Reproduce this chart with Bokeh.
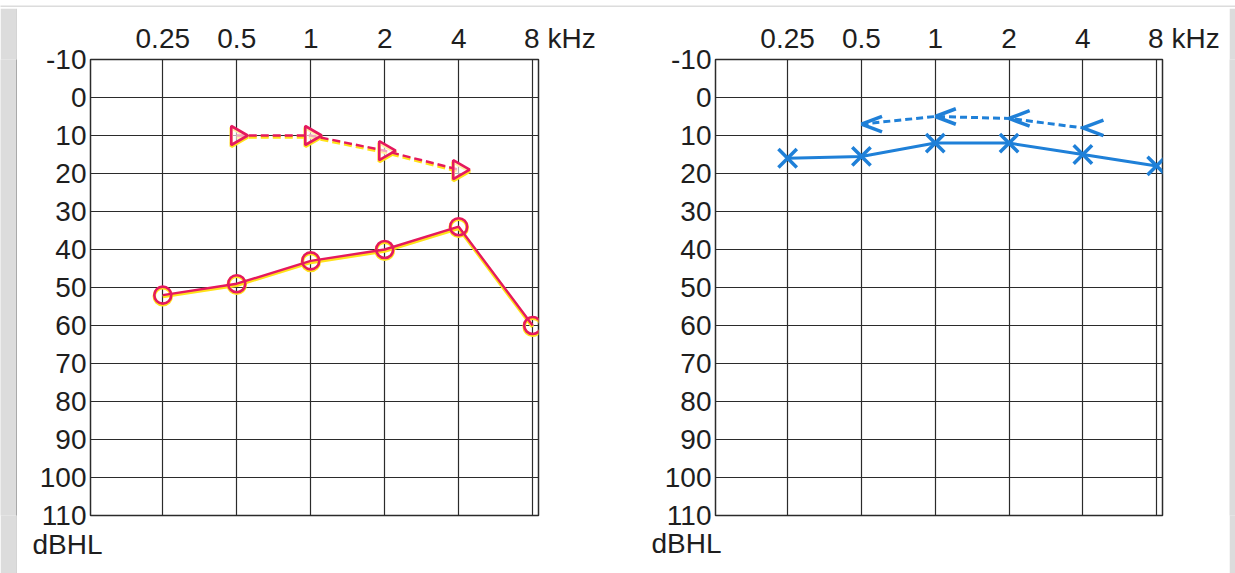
import numpy as np
from bokeh.plotting import figure
from bokeh.layouts import row, column
from bokeh.models import Range1d, FixedTicker, Title
from bokeh.embed import file_html
from bokeh.resources import INLINE

# ---------------- data ----------------
freqs = [0.25, 0.5, 1, 2, 4, 8]
# the last label carries leading figure/punctuation spaces so that "8" stays centred on its line
freq_labels = ["0.25", "0.5", "1", "2", "4", "\u2007\u2007\u2007\u20088 kHz"]
db_ticks = [-10, 0, 10, 20, 30, 40, 50, 60, 70, 80, 90, 100, 110]
db_labels = ["-10", "0", "10", "20", "30", "40", "50", "60", "70", "80", "90", "100", "110"]
y_unit = "dBHL"

# left chart (red): air conduction (circles) and bone conduction (triangles)
right_air_f = [0.25, 0.5, 1, 2, 4, 8]
right_air_db = [52, 49, 43, 40, 34, 60]
right_bone_f = [0.5, 1, 2, 4]
right_bone_db = [10, 10, 14, 19]

# right chart (blue): air conduction (crosses) and bone conduction (<)
left_air_f = [0.25, 0.5, 1, 2, 4, 8]
left_air_db = [16, 15.5, 12, 12, 15, 18]
left_bone_f = [0.5, 1, 2, 4]
left_bone_db = [7, 5, 5.5, 8]

RED = "#e5195e"
YEL = "#ffe21a"
BLUE = "#1f80d8"
GRID = "#2b2b2b"
TXT = "#1e1e1e"
FONT = "Liberation Sans"
FS = "28px"
PAGE_GRAY = "#dcdcdc"
EDGE = "#555555"


def make_chart(width, height, bl, br, bt, bb, dbhl_off, dbhl_standoff):
    p = figure(width=width, height=height, x_axis_type="log", x_axis_location="above",
               x_range=Range1d(0.127, 8.45), y_range=Range1d(110, -10),
               toolbar_location=None, output_backend="svg",
               min_border_left=bl, min_border_right=br, min_border_top=bt, min_border_bottom=bb)
    p.background_fill_color = "white"
    p.border_fill_color = "white"
    p.outline_line_color = GRID
    p.outline_line_width = 1.5
    xt = FixedTicker(ticks=freqs, minor_ticks=[])
    yt = FixedTicker(ticks=db_ticks, minor_ticks=[])
    p.xaxis.ticker = xt
    p.yaxis.ticker = yt
    p.xaxis.major_label_overrides = {f: l for f, l in zip(freqs, freq_labels)}
    p.yaxis.major_label_overrides = {d: l for d, l in zip(db_ticks, db_labels)}
    for ax in (p.xaxis, p.yaxis):
        ax.axis_line_color = None
        ax.major_tick_line_color = None
        ax.minor_tick_line_color = None
        ax.major_tick_out = 0
        ax.major_tick_in = 0
        ax.minor_tick_out = 0
        ax.major_label_text_font = FONT
        ax.major_label_text_font_size = FS
        ax.major_label_text_color = TXT
    p.xaxis.major_label_standoff = 6
    p.yaxis.major_label_standoff = 4
    p.xgrid.ticker = xt
    p.ygrid.ticker = yt
    p.xgrid.grid_line_color = GRID
    p.ygrid.grid_line_color = GRID
    p.xgrid.grid_line_width = 1.2
    p.ygrid.grid_line_width = 1.2
    p.xgrid.grid_line_alpha = 1
    p.ygrid.grid_line_alpha = 1
    p.add_layout(Title(text=y_unit, align="left", offset=dbhl_off, standoff=dbhl_standoff,
                       text_font=FONT, text_font_size=FS, text_font_style="normal",
                       text_color=TXT), "below")
    return p


# ---------------- left chart ----------------
p1 = make_chart(609, 565, 73, 88, 47, 58, -58, 23)
ya = np.array(right_air_db, dtype=float)
yb = np.array(right_bone_db, dtype=float)
# yellow misregistration under the red print
p1.line(right_air_f, ya + 0.4, line_color=YEL, line_width=3.5)
p1.line(right_bone_f, yb + 0.4, line_color=YEL, line_width=3.5, line_dash="8 4")
p1.scatter(right_air_f, ya + 0.3, marker="circle", size=17, fill_alpha=0,
           line_color=YEL, line_width=3.5)
p1.scatter(right_bone_f, yb + 0.4, marker="triangle", angle=-np.pi / 2, size=19,
           fill_alpha=0, line_color=YEL, line_width=3.5)
p1.line(right_air_f, ya, line_color=RED, line_width=2.4)
p1.line(right_bone_f, yb, line_color=RED, line_width=2.4, line_dash="8 4")
p1.scatter(right_air_f, ya, marker="circle", size=17, fill_alpha=0,
           line_color=RED, line_width=2.6)
p1.scatter(right_bone_f, yb, marker="triangle", angle=-np.pi / 2, size=19,
           fill_color="white", fill_alpha=0.6, line_color=RED, line_width=2.6)

# ---------------- right chart ----------------
p2 = make_chart(603, 565, 89, 67, 51, 53, -64, 21)
p2.line(left_air_f, left_air_db, line_color=BLUE, line_width=3)
p2.scatter(left_air_f, left_air_db, marker="x", size=26, line_color=BLUE, line_width=3.5)
p2.line(left_bone_f, left_bone_db, line_color=BLUE, line_width=3, line_dash="7 4")
p2.ray(left_bone_f, left_bone_db, length=22, length_units="screen", angle=0.36,
       line_color=BLUE, line_width=3.5)
p2.ray(left_bone_f, left_bone_db, length=22, length_units="screen", angle=-0.36,
       line_color=BLUE, line_width=3.5)


# ---------------- scanner page edges ----------------
def strip(w, h, color):
    s = figure(width=w, height=h, toolbar_location=None, output_backend="svg",
               min_border=0, min_border_left=0, min_border_right=0,
               min_border_top=0, min_border_bottom=0)
    s.axis.visible = False
    s.grid.visible = False
    s.outline_line_color = None
    s.background_fill_color = color
    s.border_fill_color = color
    return s


top = strip(1235, 7, PAGE_GRAY)
top_edge = strip(1235, 1, EDGE)
left = strip(16, 565, PAGE_GRAY)
left_edge = strip(1, 565, EDGE)
right = strip(6, 565, PAGE_GRAY)

layout = column(top, top_edge, row(left, left_edge, p1, p2, right, spacing=0), spacing=0)
open("out.html", "w").write(file_html(layout, INLINE))
